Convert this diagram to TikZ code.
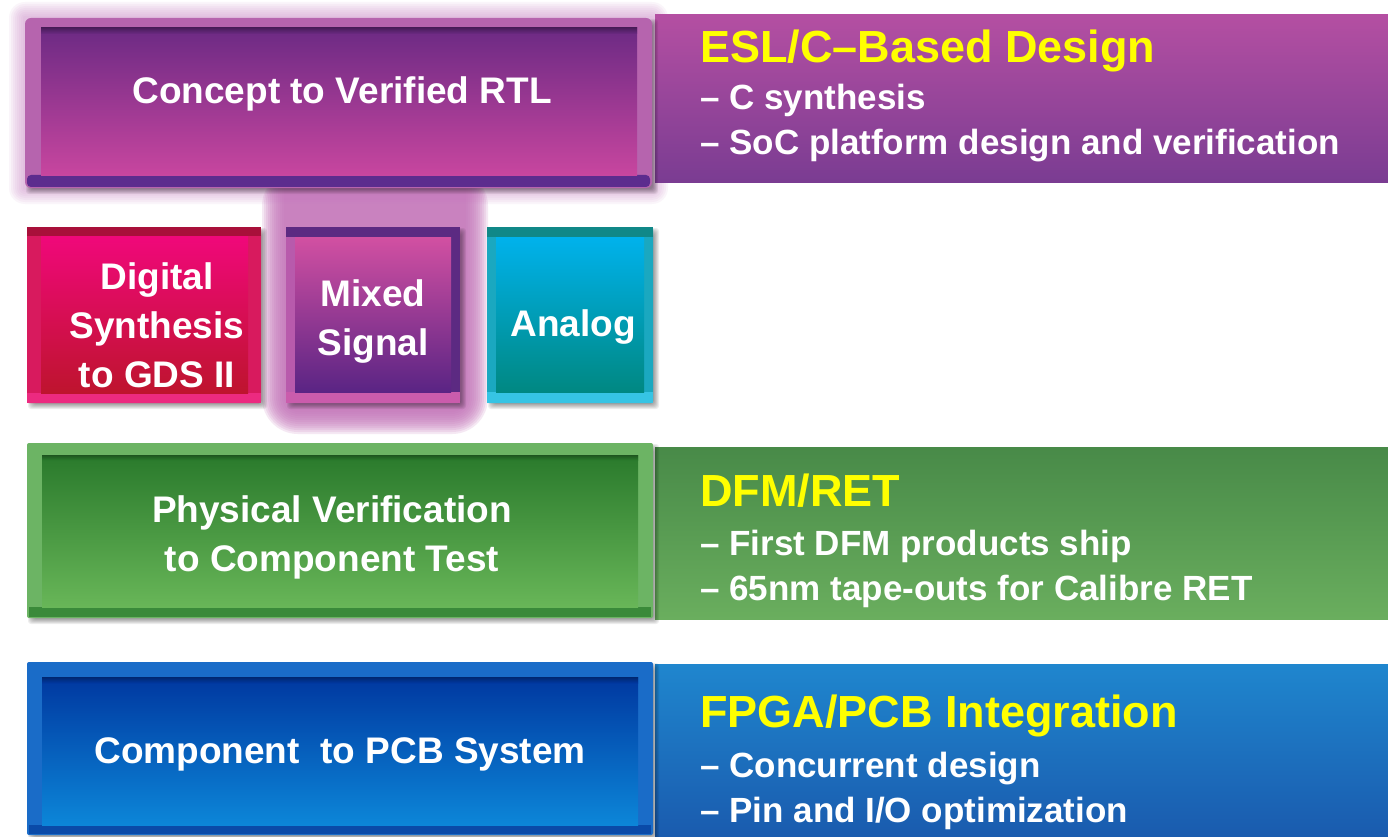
\documentclass[tikz,border=0pt]{standalone}
\usepackage{fontspec}
\setmainfont{Liberation Sans}
\usetikzlibrary{calc}
% colours
\definecolor{glowpink}{HTML}{C882C4}
\definecolor{colpink}{HTML}{C474BA}
\definecolor{bandPtop}{HTML}{B44FA2}
\definecolor{bandPbot}{HTML}{7A3C92}
\definecolor{bandGtop}{HTML}{488A48}
\definecolor{bandGbot}{HTML}{6AAE5E}
\definecolor{bandBtop}{HTML}{1F86CE}
\definecolor{bandBbot}{HTML}{1A5BAE}
\definecolor{hlyellow}{HTML}{FFFF00}
% top box
\definecolor{tFrame}{HTML}{B664AE}
\definecolor{tFrameB}{HTML}{5C2C8E}
\definecolor{tInTop}{HTML}{6C2A84}
\definecolor{tInBot}{HTML}{C8469F}
% digital
\definecolor{dFrame}{HTML}{D81A5E}
\definecolor{dFrameT}{HTML}{A8103A}
\definecolor{dFrameB}{HTML}{EC2A80}
\definecolor{dInTop}{HTML}{F0087A}
\definecolor{dInBot}{HTML}{BE142E}
% mixed
\definecolor{mFrame}{HTML}{B85AAC}
\definecolor{mFrameT}{HTML}{5C2A82}
\definecolor{mFrameB}{HTML}{CA5CAC}
\definecolor{mInTop}{HTML}{D250A2}
\definecolor{mInBot}{HTML}{5A2484}
% analog
\definecolor{aFrame}{HTML}{1AA8C0}
\definecolor{aFrameT}{HTML}{108888}
\definecolor{aFrameB}{HTML}{36C4E4}
\definecolor{aInTop}{HTML}{00B2EC}
\definecolor{aInBot}{HTML}{008882}
% green
\definecolor{gFrame}{HTML}{6CB464}
\definecolor{gFrameB}{HTML}{3A8A3A}
\definecolor{gInTop}{HTML}{2A7A2C}
\definecolor{gInBot}{HTML}{68B658}
% blue
\definecolor{bFrame}{HTML}{1A6CC8}
\definecolor{bFrameB}{HTML}{0A4AA8}
\definecolor{bInTop}{HTML}{0038A0}
\definecolor{bInBot}{HTML}{0C86D8}

\tikzset{
  boxtext/.style={text=white, font=\fontsize{37}{49}\selectfont\bfseries, align=center, inner sep=0pt},
  bandtitle/.style={text=hlyellow, font=\fontsize{45}{50}\selectfont\bfseries, anchor=base west, inner sep=0pt},
  bandbullet/.style={text=white, font=\fontsize{35}{42}\selectfont\bfseries, anchor=base west, inner sep=0pt},
}
% drop shadow: x1 y1 x2 y2
\newcommand\dshadow[4]{%
  \foreach \k in {0,...,5}{%
    \fill[black,opacity=0.07,rounded corners=3pt] (#1+6-\k,#2+6-\k) rectangle (#3+1+\k,#4+1+\k);}}
% glow: x1 y1 x2 y2 colour
\newcommand\softglow[5]{%
  \foreach \k [evaluate=\k as \r using 2*\k] in {1,...,8}{%
    \fill[#5,opacity=0.08,rounded corners=\r pt] (#1-\r,#2-\r) rectangle (#3+\r,#4+\r);}}

\begin{document}
\begin{tikzpicture}[x=1pt,y=-1pt]
\useasboundingbox (0,0) rectangle (1388,837);
\fill[white] (0,0) rectangle (1388,837);

% ---------- glows ----------
\softglow{25}{18}{652}{188}{glowpink}
% column of glow joining the top box and the mixed-signal box
\foreach \k [evaluate=\k as \r using 2*\k, evaluate=\k as \rc using 14+2*\k] in {0,...,11}{%
  \fill[colpink,opacity=0.16,rounded corners=\rc pt] (284-\r,170) rectangle (466+\r,412+\r);}

% ---------- right bands ----------
\shade[top color=bandPtop, bottom color=bandPbot] (655,15) rectangle (1388,183);
\shade[top color=bandGtop, bottom color=bandGbot] (655,447) rectangle (1388,619);
\shade[top color=bandBtop, bottom color=bandBbot] (655,664) rectangle (1388,837);

% ---------- top box ----------
\dshadow{25}{18}{652}{188}
\fill[tFrame,rounded corners=6pt] (25,18) rectangle (652,188);
\fill[tFrameB,rounded corners=4pt] (27,175) rectangle (650,187);
\shade[top color=tInTop, bottom color=tInBot] (41,28) rectangle (637,176);
\shade[top color=tInTop!70!black, bottom color=tInTop] (41,28) rectangle (637,34);
\node[boxtext] (concept) at (342,94) {Concept to Verified RTL};

% ---------- digital ----------
\dshadow{27}{227}{261}{403}
\fill[dFrame,rounded corners=2pt] (27,227) rectangle (261,403);
\fill[dFrameT] (27,227) rectangle (261,236);
\fill[dFrameB] (27,393) rectangle (261,403);
\shade[top color=dInTop, bottom color=dInBot] (41,236) rectangle (248,393);
\node[boxtext] (digital) at (157,325) {Digital\\Synthesis\\to GDS II};

% ---------- mixed ----------
\dshadow{286}{227}{460}{403}
\fill[mFrame,rounded corners=2pt] (286,227) rectangle (460,403);
\fill[mFrameT] (286,227) rectangle (460,237);
\fill[mFrameT] (451,227) rectangle (460,392);
\fill[mFrameB] (286,392) rectangle (460,403);
\shade[top color=mInTop, bottom color=mInBot] (295,237) rectangle (451,392);
\node[boxtext] (mixed) at (373,322) {Mixed\\Signal};

% ---------- analog ----------
\dshadow{487}{227}{653}{403}
\fill[aFrame,rounded corners=2pt] (487,227) rectangle (653,403);
\fill[aFrameT] (487,227) rectangle (653,237);
\fill[aFrameB] (487,392) rectangle (653,403);
\shade[top color=aInTop, bottom color=aInBot] (496,237) rectangle (644,392);
\node[boxtext] (analog) at (573,327) {Analog};

% ---------- green ----------
\dshadow{27}{443}{653}{618}
\fill[gFrame,rounded corners=2pt] (27,443) rectangle (653,618);
\fill[gFrameB] (29,607) rectangle (651,617);
\shade[top color=gInTop, bottom color=gInBot] (42,455) rectangle (638,607);
\shade[top color=gInTop!70!black, bottom color=gInTop] (42,455) rectangle (638,460);
\node[boxtext] (physical) at (332,537) {Physical Verification\\to Component Test};

% ---------- blue ----------
\dshadow{27}{662}{653}{835}
\fill[bFrame,rounded corners=2pt] (27,662) rectangle (653,835);
\fill[bFrameB] (29,825) rectangle (651,834);
\shade[top color=bInTop, bottom color=bInBot] (42,677) rectangle (638,825);
\shade[top color=bInTop!70!black, bottom color=bInTop] (42,677) rectangle (638,683);
\node[boxtext] (component) at (340,754) {Component\ \ to PCB System};

% ---------- band texts ----------
\node[bandtitle] (esl) at (700,63) {ESL/C–Based Design};
\node[bandbullet] (esl1) at (700,110) {– C synthesis};
\node[bandbullet] (esl2) at (700,155) {– SoC platform design and verification};

\node[bandtitle] (dfm) at (700,506) {DFM/RET};
\node[bandbullet] (dfm1) at (700,555) {– First DFM products ship};
\node[bandbullet] (dfm2) at (700,600) {– 65nm tape-outs for Calibre RET};

\node[bandtitle] (fpga) at (700,727) {FPGA/PCB Integration};
\node[bandbullet] (fpga1) at (700,777) {– Concurrent design};
\node[bandbullet] (fpga2) at (700,822) {– Pin and I/O optimization};
\end{tikzpicture}
\end{document}
